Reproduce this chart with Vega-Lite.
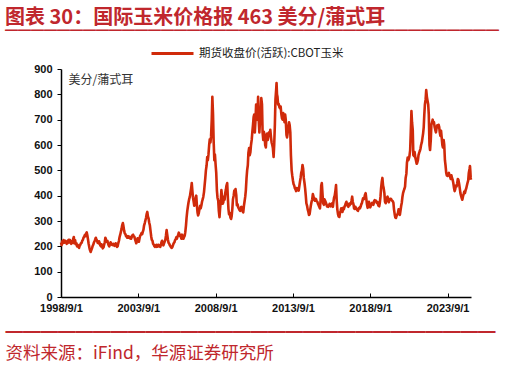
{
  "$schema": "https://vega.github.io/schema/vega-lite/v6.json",
  "width": 410,
  "height": 228,
  "autosize": {"type": "none"},
  "padding": {"left": 61, "top": 69, "right": 35, "bottom": 69},
  "background": "white",
  "title": {
    "text": "图表 30：国际玉米价格报 463 美分/蒲式耳",
    "subtitle": "━━━━━━━━━━━━━━━━━━━━━━━━━━━━━━━━━━━━━━",
    "anchor": "start",
    "frame": "group",
    "dx": -56,
    "font": "Noto Sans CJK SC",
    "fontSize": 20,
    "fontWeight": "bold",
    "color": "#c0272d",
    "subtitleFont": "Noto Sans CJK SC",
    "subtitleFontSize": 13,
    "subtitleColor": "#c0272d",
    "subtitlePadding": -3,
    "offset": -7
  },
  "data": {"values": [
{"d":"1998-09-01","v":215},{"d":"1998-09-15","v":205},{"d":"1998-10-01","v":220},{"d":"1998-10-15","v":212},{"d":"1998-11-01","v":225},{"d":"1998-11-15","v":218},{"d":"1998-12-01","v":215},{"d":"1998-12-15","v":222},
{"d":"1999-01-01","v":218},{"d":"1999-01-15","v":210},{"d":"1999-02-01","v":212},{"d":"1999-02-15","v":222},{"d":"1999-03-01","v":226},{"d":"1999-03-15","v":215},{"d":"1999-04-01","v":225},{"d":"1999-04-15","v":218},{"d":"1999-05-01","v":210},{"d":"1999-05-15","v":220},{"d":"1999-06-01","v":214},{"d":"1999-06-15","v":228},{"d":"1999-07-01","v":237},{"d":"1999-07-15","v":212},{"d":"1999-08-01","v":224},{"d":"1999-08-15","v":208},{"d":"1999-09-01","v":212},{"d":"1999-09-15","v":200},{"d":"1999-10-01","v":206},{"d":"1999-10-15","v":198},{"d":"1999-11-01","v":194},{"d":"1999-11-15","v":202},{"d":"1999-12-01","v":206},{"d":"1999-12-15","v":212},
{"d":"2000-01-01","v":214},{"d":"2000-01-15","v":222},{"d":"2000-02-01","v":226},{"d":"2000-02-15","v":234},{"d":"2000-03-01","v":238},{"d":"2000-03-15","v":244},{"d":"2000-04-01","v":240},{"d":"2000-04-15","v":250},{"d":"2000-05-01","v":255},{"d":"2000-05-15","v":244},{"d":"2000-06-01","v":226},{"d":"2000-06-15","v":210},{"d":"2000-07-01","v":196},{"d":"2000-07-15","v":186},{"d":"2000-08-01","v":178},{"d":"2000-08-15","v":184},{"d":"2000-09-01","v":192},{"d":"2000-09-15","v":200},{"d":"2000-10-01","v":206},{"d":"2000-10-15","v":214},{"d":"2000-11-01","v":220},{"d":"2000-11-15","v":226},{"d":"2000-12-01","v":234},{"d":"2000-12-15","v":228},
{"d":"2001-01-01","v":222},{"d":"2001-01-15","v":214},{"d":"2001-02-01","v":212},{"d":"2001-02-15","v":220},{"d":"2001-03-01","v":214},{"d":"2001-03-15","v":204},{"d":"2001-04-01","v":200},{"d":"2001-04-15","v":208},{"d":"2001-05-01","v":198},{"d":"2001-05-15","v":192},{"d":"2001-06-01","v":196},{"d":"2001-06-15","v":206},{"d":"2001-07-01","v":216},{"d":"2001-07-15","v":234},{"d":"2001-08-01","v":226},{"d":"2001-08-15","v":218},{"d":"2001-09-01","v":222},{"d":"2001-09-15","v":212},{"d":"2001-10-01","v":204},{"d":"2001-10-15","v":200},{"d":"2001-11-01","v":208},{"d":"2001-11-15","v":216},{"d":"2001-12-01","v":210},{"d":"2001-12-15","v":206},
{"d":"2002-01-01","v":205},{"d":"2002-01-15","v":210},{"d":"2002-02-01","v":208},{"d":"2002-02-15","v":202},{"d":"2002-03-01","v":206},{"d":"2002-03-15","v":212},{"d":"2002-04-01","v":202},{"d":"2002-04-15","v":198},{"d":"2002-05-01","v":200},{"d":"2002-05-15","v":212},{"d":"2002-06-01","v":222},{"d":"2002-06-15","v":236},{"d":"2002-07-01","v":246},{"d":"2002-07-15","v":256},{"d":"2002-08-01","v":268},{"d":"2002-08-15","v":282},{"d":"2002-09-01","v":292},{"d":"2002-09-15","v":280},{"d":"2002-10-01","v":262},{"d":"2002-10-15","v":252},{"d":"2002-11-01","v":248},{"d":"2002-11-15","v":240},{"d":"2002-12-01","v":238},{"d":"2002-12-15","v":234},
{"d":"2003-01-01","v":240},{"d":"2003-01-15","v":234},{"d":"2003-02-01","v":238},{"d":"2003-02-15","v":232},{"d":"2003-03-01","v":236},{"d":"2003-03-15","v":230},{"d":"2003-04-01","v":238},{"d":"2003-04-15","v":244},{"d":"2003-05-01","v":246},{"d":"2003-05-15","v":240},{"d":"2003-06-01","v":238},{"d":"2003-06-15","v":228},{"d":"2003-07-01","v":220},{"d":"2003-07-15","v":212},{"d":"2003-08-01","v":222},{"d":"2003-08-15","v":232},{"d":"2003-09-01","v":226},{"d":"2003-09-15","v":218},{"d":"2003-10-01","v":232},{"d":"2003-10-15","v":242},{"d":"2003-11-01","v":246},{"d":"2003-11-15","v":252},{"d":"2003-12-01","v":248},{"d":"2003-12-15","v":256},
{"d":"2004-01-01","v":266},{"d":"2004-01-15","v":282},{"d":"2004-02-01","v":292},{"d":"2004-02-15","v":302},{"d":"2004-03-01","v":312},{"d":"2004-03-15","v":326},{"d":"2004-04-01","v":336},{"d":"2004-04-15","v":318},{"d":"2004-05-01","v":310},{"d":"2004-05-15","v":294},{"d":"2004-06-01","v":282},{"d":"2004-06-15","v":262},{"d":"2004-07-01","v":240},{"d":"2004-07-15","v":226},{"d":"2004-08-01","v":222},{"d":"2004-08-15","v":210},{"d":"2004-09-01","v":206},{"d":"2004-09-15","v":200},{"d":"2004-10-01","v":198},{"d":"2004-10-15","v":202},{"d":"2004-11-01","v":206},{"d":"2004-11-15","v":198},{"d":"2004-12-01","v":200},{"d":"2004-12-15","v":206},
{"d":"2005-01-01","v":200},{"d":"2005-01-15","v":204},{"d":"2005-02-01","v":198},{"d":"2005-02-15","v":206},{"d":"2005-03-01","v":216},{"d":"2005-03-15","v":222},{"d":"2005-04-01","v":210},{"d":"2005-04-15","v":204},{"d":"2005-05-01","v":212},{"d":"2005-05-15","v":218},{"d":"2005-06-01","v":226},{"d":"2005-06-15","v":242},{"d":"2005-07-01","v":264},{"d":"2005-07-15","v":246},{"d":"2005-08-01","v":226},{"d":"2005-08-15","v":214},{"d":"2005-09-01","v":210},{"d":"2005-09-15","v":204},{"d":"2005-10-01","v":200},{"d":"2005-10-15","v":196},{"d":"2005-11-01","v":194},{"d":"2005-11-15","v":198},{"d":"2005-12-01","v":206},{"d":"2005-12-15","v":212},
{"d":"2006-01-01","v":216},{"d":"2006-01-15","v":224},{"d":"2006-02-01","v":228},{"d":"2006-02-15","v":236},{"d":"2006-03-01","v":230},{"d":"2006-03-15","v":238},{"d":"2006-04-01","v":246},{"d":"2006-04-15","v":254},{"d":"2006-05-01","v":248},{"d":"2006-05-15","v":240},{"d":"2006-06-01","v":238},{"d":"2006-06-15","v":230},{"d":"2006-07-01","v":246},{"d":"2006-07-15","v":238},{"d":"2006-08-01","v":230},{"d":"2006-08-15","v":236},{"d":"2006-09-01","v":242},{"d":"2006-09-15","v":256},{"d":"2006-10-01","v":282},{"d":"2006-10-15","v":312},{"d":"2006-11-01","v":340},{"d":"2006-11-15","v":356},{"d":"2006-12-01","v":374},{"d":"2006-12-15","v":386},
{"d":"2007-01-01","v":396},{"d":"2007-01-15","v":412},{"d":"2007-02-01","v":430},{"d":"2007-02-15","v":450},{"d":"2007-03-01","v":420},{"d":"2007-03-15","v":394},{"d":"2007-04-01","v":376},{"d":"2007-04-15","v":360},{"d":"2007-05-01","v":372},{"d":"2007-05-15","v":390},{"d":"2007-06-01","v":400},{"d":"2007-06-15","v":364},{"d":"2007-07-01","v":334},{"d":"2007-07-15","v":322},{"d":"2007-08-01","v":332},{"d":"2007-08-15","v":346},{"d":"2007-09-01","v":360},{"d":"2007-09-15","v":350},{"d":"2007-10-01","v":362},{"d":"2007-10-15","v":376},{"d":"2007-11-01","v":386},{"d":"2007-11-15","v":396},{"d":"2007-12-01","v":414},{"d":"2007-12-15","v":440},
{"d":"2008-01-01","v":470},{"d":"2008-01-15","v":500},{"d":"2008-02-01","v":520},{"d":"2008-02-15","v":552},{"d":"2008-03-01","v":540},{"d":"2008-03-15","v":562},{"d":"2008-04-01","v":600},{"d":"2008-04-15","v":622},{"d":"2008-05-01","v":610},{"d":"2008-05-15","v":632},{"d":"2008-06-01","v":700},{"d":"2008-06-15","v":790},{"d":"2008-07-01","v":722},{"d":"2008-07-15","v":620},{"d":"2008-08-01","v":540},{"d":"2008-08-15","v":562},{"d":"2008-09-01","v":520},{"d":"2008-09-15","v":490},{"d":"2008-10-01","v":420},{"d":"2008-10-15","v":392},{"d":"2008-11-01","v":380},{"d":"2008-11-15","v":340},{"d":"2008-12-01","v":315},{"d":"2008-12-15","v":350},
{"d":"2009-01-01","v":380},{"d":"2009-01-15","v":422},{"d":"2009-02-01","v":390},{"d":"2009-02-15","v":368},{"d":"2009-03-01","v":374},{"d":"2009-03-15","v":396},{"d":"2009-04-01","v":384},{"d":"2009-04-15","v":410},{"d":"2009-05-01","v":424},{"d":"2009-05-15","v":440},{"d":"2009-06-01","v":450},{"d":"2009-06-15","v":396},{"d":"2009-07-01","v":346},{"d":"2009-07-15","v":326},{"d":"2009-08-01","v":332},{"d":"2009-08-15","v":314},{"d":"2009-09-01","v":308},{"d":"2009-09-15","v":320},{"d":"2009-10-01","v":350},{"d":"2009-10-15","v":386},{"d":"2009-11-01","v":400},{"d":"2009-11-15","v":420},{"d":"2009-12-01","v":414},{"d":"2009-12-15","v":426},
{"d":"2010-01-01","v":402},{"d":"2010-01-15","v":362},{"d":"2010-02-01","v":366},{"d":"2010-02-15","v":354},{"d":"2010-03-01","v":350},{"d":"2010-03-15","v":344},{"d":"2010-04-01","v":340},{"d":"2010-04-15","v":352},{"d":"2010-05-01","v":356},{"d":"2010-05-15","v":344},{"d":"2010-06-01","v":338},{"d":"2010-06-15","v":334},{"d":"2010-07-01","v":360},{"d":"2010-07-15","v":376},{"d":"2010-08-01","v":396},{"d":"2010-08-15","v":420},{"d":"2010-09-01","v":470},{"d":"2010-09-15","v":500},{"d":"2010-10-01","v":520},{"d":"2010-10-15","v":570},{"d":"2010-11-01","v":588},{"d":"2010-11-15","v":560},{"d":"2010-12-01","v":572},{"d":"2010-12-15","v":600},
{"d":"2011-01-01","v":620},{"d":"2011-01-15","v":650},{"d":"2011-02-01","v":680},{"d":"2011-02-15","v":710},{"d":"2011-03-01","v":720},{"d":"2011-03-15","v":650},{"d":"2011-04-01","v":700},{"d":"2011-04-15","v":760},{"d":"2011-05-01","v":740},{"d":"2011-05-15","v":700},{"d":"2011-06-01","v":790},{"d":"2011-06-15","v":700},{"d":"2011-07-01","v":650},{"d":"2011-07-15","v":690},{"d":"2011-08-01","v":720},{"d":"2011-08-15","v":785},{"d":"2011-09-01","v":760},{"d":"2011-09-15","v":650},{"d":"2011-10-01","v":620},{"d":"2011-10-15","v":652},{"d":"2011-11-01","v":640},{"d":"2011-11-15","v":600},{"d":"2011-12-01","v":590},{"d":"2011-12-15","v":630},
{"d":"2012-01-01","v":645},{"d":"2012-01-15","v":620},{"d":"2012-02-01","v":636},{"d":"2012-02-15","v":650},{"d":"2012-03-01","v":640},{"d":"2012-03-15","v":660},{"d":"2012-04-01","v":630},{"d":"2012-04-15","v":610},{"d":"2012-05-01","v":600},{"d":"2012-05-15","v":588},{"d":"2012-06-01","v":553},{"d":"2012-06-15","v":600},{"d":"2012-07-01","v":680},{"d":"2012-07-15","v":780},{"d":"2012-08-01","v":820},{"d":"2012-08-10","v":845},{"d":"2012-08-20","v":800},{"d":"2012-09-01","v":790},{"d":"2012-09-15","v":760},{"d":"2012-10-01","v":762},{"d":"2012-10-15","v":750},{"d":"2012-11-01","v":745},{"d":"2012-11-15","v":752},{"d":"2012-12-01","v":722},{"d":"2012-12-15","v":706},
{"d":"2013-01-01","v":700},{"d":"2013-01-15","v":726},{"d":"2013-02-01","v":706},{"d":"2013-02-15","v":690},{"d":"2013-03-01","v":720},{"d":"2013-03-15","v":700},{"d":"2013-04-01","v":640},{"d":"2013-04-15","v":630},{"d":"2013-05-01","v":650},{"d":"2013-05-15","v":670},{"d":"2013-06-01","v":690},{"d":"2013-06-15","v":679},{"d":"2013-07-01","v":650},{"d":"2013-07-15","v":560},{"d":"2013-08-01","v":500},{"d":"2013-08-15","v":480},{"d":"2013-09-01","v":460},{"d":"2013-09-15","v":446},{"d":"2013-10-01","v":440},{"d":"2013-10-15","v":430},{"d":"2013-11-01","v":425},{"d":"2013-11-15","v":418},{"d":"2013-12-01","v":430},{"d":"2013-12-15","v":424},
{"d":"2014-01-01","v":430},{"d":"2014-01-15","v":420},{"d":"2014-02-01","v":440},{"d":"2014-02-15","v":456},{"d":"2014-03-01","v":470},{"d":"2014-03-15","v":490},{"d":"2014-04-01","v":500},{"d":"2014-04-15","v":521},{"d":"2014-05-01","v":505},{"d":"2014-05-15","v":470},{"d":"2014-06-01","v":450},{"d":"2014-06-15","v":430},{"d":"2014-07-01","v":400},{"d":"2014-07-15","v":370},{"d":"2014-08-01","v":360},{"d":"2014-08-15","v":346},{"d":"2014-09-01","v":336},{"d":"2014-09-15","v":324},{"d":"2014-10-01","v":328},{"d":"2014-10-15","v":346},{"d":"2014-11-01","v":364},{"d":"2014-11-15","v":376},{"d":"2014-12-01","v":386},{"d":"2014-12-15","v":406},
{"d":"2015-01-01","v":395},{"d":"2015-01-15","v":384},{"d":"2015-02-01","v":380},{"d":"2015-02-15","v":388},{"d":"2015-03-01","v":386},{"d":"2015-03-15","v":378},{"d":"2015-04-01","v":376},{"d":"2015-04-15","v":368},{"d":"2015-05-01","v":362},{"d":"2015-05-15","v":356},{"d":"2015-06-01","v":350},{"d":"2015-06-15","v":380},{"d":"2015-07-01","v":440},{"d":"2015-07-15","v":450},{"d":"2015-08-01","v":405},{"d":"2015-08-15","v":370},{"d":"2015-09-01","v":364},{"d":"2015-09-15","v":386},{"d":"2015-10-01","v":380},{"d":"2015-10-15","v":374},{"d":"2015-11-01","v":366},{"d":"2015-11-15","v":358},{"d":"2015-12-01","v":362},{"d":"2015-12-15","v":356},
{"d":"2016-01-01","v":360},{"d":"2016-01-15","v":368},{"d":"2016-02-01","v":366},{"d":"2016-02-15","v":358},{"d":"2016-03-01","v":362},{"d":"2016-03-15","v":370},{"d":"2016-04-01","v":356},{"d":"2016-04-15","v":376},{"d":"2016-05-01","v":394},{"d":"2016-05-15","v":400},{"d":"2016-06-01","v":420},{"d":"2016-06-15","v":442},{"d":"2016-07-01","v":380},{"d":"2016-07-15","v":346},{"d":"2016-08-01","v":326},{"d":"2016-08-15","v":318},{"d":"2016-09-01","v":316},{"d":"2016-09-15","v":330},{"d":"2016-10-01","v":340},{"d":"2016-10-15","v":350},{"d":"2016-11-01","v":346},{"d":"2016-11-15","v":336},{"d":"2016-12-01","v":352},{"d":"2016-12-15","v":346},
{"d":"2017-01-01","v":356},{"d":"2017-01-15","v":362},{"d":"2017-02-01","v":370},{"d":"2017-02-15","v":376},{"d":"2017-03-01","v":366},{"d":"2017-03-15","v":360},{"d":"2017-04-01","v":356},{"d":"2017-04-15","v":368},{"d":"2017-05-01","v":362},{"d":"2017-05-15","v":370},{"d":"2017-06-01","v":368},{"d":"2017-06-15","v":380},{"d":"2017-07-01","v":396},{"d":"2017-07-15","v":376},{"d":"2017-08-01","v":366},{"d":"2017-08-15","v":350},{"d":"2017-09-01","v":348},{"d":"2017-09-15","v":356},{"d":"2017-10-01","v":350},{"d":"2017-10-15","v":346},{"d":"2017-11-01","v":342},{"d":"2017-11-15","v":340},{"d":"2017-12-01","v":350},{"d":"2017-12-15","v":352},
{"d":"2018-01-01","v":350},{"d":"2018-01-15","v":356},{"d":"2018-02-01","v":366},{"d":"2018-02-15","v":370},{"d":"2018-03-01","v":380},{"d":"2018-03-15","v":390},{"d":"2018-04-01","v":386},{"d":"2018-04-15","v":392},{"d":"2018-05-01","v":404},{"d":"2018-05-15","v":410},{"d":"2018-06-01","v":386},{"d":"2018-06-15","v":366},{"d":"2018-07-01","v":352},{"d":"2018-07-15","v":360},{"d":"2018-08-01","v":376},{"d":"2018-08-15","v":362},{"d":"2018-09-01","v":354},{"d":"2018-09-15","v":360},{"d":"2018-10-01","v":368},{"d":"2018-10-15","v":372},{"d":"2018-11-01","v":370},{"d":"2018-11-15","v":364},{"d":"2018-12-01","v":378},{"d":"2018-12-15","v":382},
{"d":"2019-01-01","v":378},{"d":"2019-01-15","v":380},{"d":"2019-02-01","v":372},{"d":"2019-02-15","v":376},{"d":"2019-03-01","v":366},{"d":"2019-03-15","v":360},{"d":"2019-04-01","v":358},{"d":"2019-04-15","v":372},{"d":"2019-05-01","v":396},{"d":"2019-05-15","v":430},{"d":"2019-06-01","v":456},{"d":"2019-06-15","v":470},{"d":"2019-07-01","v":440},{"d":"2019-07-15","v":430},{"d":"2019-08-01","v":410},{"d":"2019-08-15","v":376},{"d":"2019-09-01","v":370},{"d":"2019-09-15","v":380},{"d":"2019-10-01","v":392},{"d":"2019-10-15","v":396},{"d":"2019-11-01","v":380},{"d":"2019-11-15","v":374},{"d":"2019-12-01","v":386},{"d":"2019-12-15","v":388},
{"d":"2020-01-01","v":388},{"d":"2020-01-15","v":384},{"d":"2020-02-01","v":380},{"d":"2020-02-15","v":378},{"d":"2020-03-01","v":372},{"d":"2020-03-15","v":346},{"d":"2020-04-01","v":326},{"d":"2020-04-15","v":314},{"d":"2020-05-01","v":312},{"d":"2020-05-15","v":320},{"d":"2020-06-01","v":326},{"d":"2020-06-15","v":330},{"d":"2020-07-01","v":346},{"d":"2020-07-15","v":330},{"d":"2020-08-01","v":324},{"d":"2020-08-15","v":340},{"d":"2020-09-01","v":360},{"d":"2020-09-15","v":372},{"d":"2020-10-01","v":396},{"d":"2020-10-15","v":410},{"d":"2020-11-01","v":420},{"d":"2020-11-15","v":426},{"d":"2020-12-01","v":436},{"d":"2020-12-15","v":470},
{"d":"2021-01-01","v":486},{"d":"2021-01-15","v":530},{"d":"2021-02-01","v":550},{"d":"2021-02-15","v":540},{"d":"2021-03-01","v":546},{"d":"2021-03-15","v":556},{"d":"2021-04-01","v":580},{"d":"2021-04-15","v":650},{"d":"2021-05-01","v":734},{"d":"2021-05-15","v":690},{"d":"2021-06-01","v":660},{"d":"2021-06-15","v":560},{"d":"2021-07-01","v":556},{"d":"2021-07-15","v":572},{"d":"2021-08-01","v":550},{"d":"2021-08-15","v":540},{"d":"2021-09-01","v":526},{"d":"2021-09-15","v":530},{"d":"2021-10-01","v":540},{"d":"2021-10-15","v":560},{"d":"2021-11-01","v":570},{"d":"2021-11-15","v":576},{"d":"2021-12-01","v":586},{"d":"2021-12-15","v":600},
{"d":"2022-01-01","v":610},{"d":"2022-01-15","v":626},{"d":"2022-02-01","v":646},{"d":"2022-02-15","v":670},{"d":"2022-03-01","v":720},{"d":"2022-03-15","v":760},{"d":"2022-04-01","v":780},{"d":"2022-04-15","v":817},{"d":"2022-05-01","v":790},{"d":"2022-05-15","v":776},{"d":"2022-06-01","v":760},{"d":"2022-06-15","v":720},{"d":"2022-07-01","v":600},{"d":"2022-07-15","v":580},{"d":"2022-08-01","v":620},{"d":"2022-08-15","v":680},{"d":"2022-09-01","v":690},{"d":"2022-09-15","v":700},{"d":"2022-10-01","v":686},{"d":"2022-10-15","v":690},{"d":"2022-11-01","v":670},{"d":"2022-11-15","v":660},{"d":"2022-12-01","v":650},{"d":"2022-12-15","v":666},
{"d":"2023-01-01","v":678},{"d":"2023-01-15","v":670},{"d":"2023-02-01","v":680},{"d":"2023-02-15","v":672},{"d":"2023-03-01","v":650},{"d":"2023-03-15","v":636},{"d":"2023-04-01","v":656},{"d":"2023-04-15","v":630},{"d":"2023-05-01","v":600},{"d":"2023-05-15","v":590},{"d":"2023-06-01","v":620},{"d":"2023-06-15","v":600},{"d":"2023-07-01","v":540},{"d":"2023-07-15","v":520},{"d":"2023-08-01","v":490},{"d":"2023-08-15","v":480},{"d":"2023-09-01","v":478},{"d":"2023-09-15","v":486},{"d":"2023-10-01","v":490},{"d":"2023-10-15","v":482},{"d":"2023-11-01","v":475},{"d":"2023-11-15","v":466},{"d":"2023-12-01","v":480},{"d":"2023-12-15","v":470},
{"d":"2024-01-01","v":462},{"d":"2024-01-15","v":450},{"d":"2024-02-01","v":430},{"d":"2024-02-15","v":418},{"d":"2024-03-01","v":426},{"d":"2024-03-15","v":440},{"d":"2024-04-01","v":436},{"d":"2024-04-15","v":448},{"d":"2024-05-01","v":466},{"d":"2024-05-15","v":462},{"d":"2024-06-01","v":446},{"d":"2024-06-15","v":430},{"d":"2024-07-01","v":410},{"d":"2024-07-15","v":400},{"d":"2024-08-01","v":390},{"d":"2024-08-15","v":384},{"d":"2024-09-01","v":398},{"d":"2024-09-15","v":406},{"d":"2024-10-01","v":416},{"d":"2024-10-15","v":410},{"d":"2024-11-01","v":422},{"d":"2024-11-15","v":428},{"d":"2024-12-01","v":440},{"d":"2024-12-15","v":450},
{"d":"2025-01-01","v":460},{"d":"2025-01-15","v":490},{"d":"2025-02-01","v":505},{"d":"2025-02-12","v":517},{"d":"2025-02-20","v":498},{"d":"2025-03-01","v":470},{"d":"2025-03-07","v":463}
  ]},
  "mark": {"type": "line", "strokeWidth": 2.6, "strokeJoin": "round"},
  "encoding": {
    "x": {
      "field": "d",
      "type": "temporal",
      "scale": {"type": "utc", "domain": [{"year": 1998, "month": 9, "date": 1, "utc": true}, {"year": 2025, "month": 3, "date": 8, "utc": true}]},
      "axis": {
        "values": [
          {"year": 1998, "month": 9, "date": 1, "utc": true},
          {"year": 2003, "month": 9, "date": 1, "utc": true},
          {"year": 2008, "month": 9, "date": 1, "utc": true},
          {"year": 2013, "month": 9, "date": 1, "utc": true},
          {"year": 2018, "month": 9, "date": 1, "utc": true},
          {"year": 2023, "month": 9, "date": 1, "utc": true}
        ],
        "format": "%Y/%-m/%-d",
        "grid": false,
        "domainColor": "#000",
        "domainWidth": 1.5,
        "tickColor": "#000",
        "tickWidth": 1,
        "tickSize": -4,
        "labelPadding": 9,
        "labelFont": "Liberation Sans",
        "labelFontWeight": "bold",
        "labelFontSize": 11,
        "labelColor": "#111",
        "labelFlush": false,
        "labelOverlap": false,
        "title": ["━━━━━━━━━━━━━━━━━━━━━━━━━━━━", "资料来源：iFind，华源证券研究所"],
        "titleX": -56,
        "titleY": 27,
        "titleAlign": "left",
        "titleBaseline": "top",
        "titleLineHeight": 20,
        "titleFont": "Noto Sans CJK SC",
        "titleFontSize": 17.5,
        "titleFontWeight": "normal",
        "titleColor": "#c0272d"
      }
    },
    "y": {
      "field": "v",
      "type": "quantitative",
      "scale": {"domain": [0, 900]},
      "axis": {
        "values": [0, 100, 200, 300, 400, 500, 600, 700, 800, 900],
        "grid": false,
        "domainColor": "#000",
        "domainWidth": 1.5,
        "tickColor": "#000",
        "tickWidth": 1,
        "tickSize": 4,
        "labelPadding": 5,
        "labelFont": "Liberation Sans",
        "labelFontWeight": "bold",
        "labelFontSize": 11,
        "labelColor": "#111",
        "title": "美分/蒲式耳",
        "titleAngle": 0,
        "titleAlign": "left",
        "titleBaseline": "middle",
        "titleX": 7,
        "titleY": 10,
        "titleFont": "Noto Sans CJK SC",
        "titleFontSize": 12,
        "titleFontWeight": "normal",
        "titleColor": "#333"
      }
    },
    "color": {
      "datum": "期货收盘价(活跃):CBOT玉米",
      "scale": {"range": ["#d02a0a"]},
      "legend": {
        "orient": "none",
        "legendX": 89,
        "legendY": -38,
        "direction": "horizontal",
        "title": null,
        "padding": 0,
        "symbolType": "stroke",
        "symbolSize": 1764,
        "symbolStrokeWidth": 3,
        "labelFont": "Noto Sans CJK SC",
        "labelFontSize": 11.5,
        "labelColor": "#222",
        "labelOffset": 4
      }
    }
  },
  "config": {"view": {"stroke": null}}
}
